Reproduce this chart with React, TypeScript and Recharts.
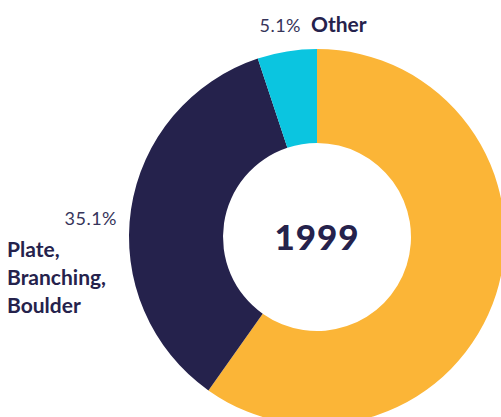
import React from "react";
import { PieChart, Pie, Cell } from "recharts";

const CATEGORIES = ["Massive", "Plate, Branching, Boulder", "Other"];
const SHARES = [59.8, 35.1, 5.1];
const COLORS = ["#FBB537", "#25224C", "#0BC5E0"];
const YEAR = "1999";

const NAVY = "#25224C";
const FONT = "Lato, 'Open Sans', sans-serif";

const data = CATEGORIES.map((name, i) => ({ name, value: SHARES[i] }));

const renderLabel = (props: any) => {
	const { cx, cy, index, percent } = props;
	const pct = `${(percent * 100).toFixed(1)}%`;
	if (index === 2) {
		return (
			<g key="lbl-other">
				<text x={cx - 16} y={cy - 205} textAnchor="end" fontFamily={FONT} fontSize={18} letterSpacing={0.5} fill="#36345a">
					{pct}
				</text>
				<text x={cx - 6} y={cy - 205} textAnchor="start" fontFamily={FONT} fontSize={21} fontWeight={700} fill={NAVY}>
					Other
				</text>
			</g>
		);
	}
	if (index === 1) {
		const lines = CATEGORIES[1].split(" ");
		return (
			<g key="lbl-plate">
				<text x={cx - 200} y={cy - 12} textAnchor="end" fontFamily={FONT} fontSize={18} letterSpacing={0.5} fill="#36345a">
					{pct}
				</text>
				{lines.map((line, i) => (
					<text
						key={line}
						x={cx - 310}
						y={cy + 20 + i * 28}
						textAnchor="start"
						fontFamily={FONT}
						fontSize={21}
						fontWeight={700}
						fill={NAVY}
					>
						{line}
					</text>
				))}
			</g>
		);
	}
	return null;
};

const App: React.FC = () => {
	return (
		<div style={{ position: "absolute", left: 0, top: 0, width: 501, height: 417, overflow: "hidden", background: "#fff" }}>
			<PieChart width={501} height={417} margin={{ top: 0, right: 0, bottom: 0, left: 0 }}>
				<Pie
					data={data}
					dataKey="value"
					nameKey="name"
					cx={317}
					cy={237}
					innerRadius={94}
					outerRadius={188}
					startAngle={90}
					endAngle={-270}
					stroke="none"
					label={renderLabel}
					labelLine={false}
					isAnimationActive={false}
				>
					{data.map((_, i) => (
						<Cell key={`cell-${i}`} fill={COLORS[i]} />
					))}
				</Pie>
				<text
					x={317}
					y={250}
					textAnchor="middle"
					fontFamily={FONT}
					fontSize={35}
					fontWeight={900}
					letterSpacing={1}
					fill={NAVY}
				>
					{YEAR}
				</text>
			</PieChart>
		</div>
	);
};

export default App;
